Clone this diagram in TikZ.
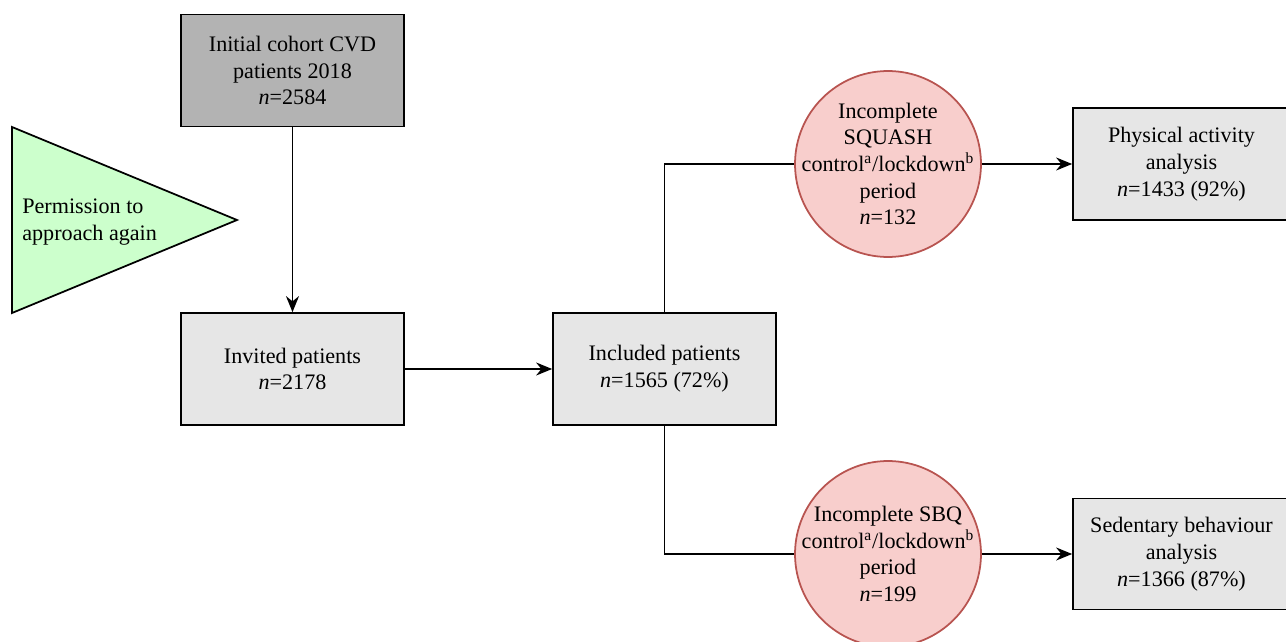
\documentclass[tikz,border=0pt]{standalone}
\usepackage{fontspec}
\setmainfont{Liberation Serif}
\usepackage{xcolor}
\usetikzlibrary{arrows.meta}
\definecolor{darkbox}{HTML}{B3B3B3}
\definecolor{lightbox}{HTML}{E6E6E6}
\definecolor{redfill}{HTML}{F8CECC}
\definecolor{redline}{HTML}{B85450}
\definecolor{greenfill}{HTML}{CCFFCC}

\begin{document}
\begin{tikzpicture}[x=0.02cm, y=-0.02cm,
    every node/.style={font=\fontsize{12.6}{15.2}\selectfont},
    box/.style={shape=rectangle, draw, line width=1pt, fill=lightbox, minimum width=4.46cm, minimum height=2.24cm, align=center, inner sep=2pt},
    circ/.style={shape=circle, draw=redline, line width=1pt, fill=redfill, minimum size=3.72cm, inner sep=-30pt, align=center},
    arr/.style={line width=1pt, -{Stealth[length=0.32cm, width=0.26cm]}}]
    \useasboundingbox (0,0) rectangle (1286,642);

    % left column
    \node[box, fill=darkbox] (init) at (292.5,70.5) {Initial cohort CVD\\patients 2018\\\textit{n}=2584};
    \node[box] (invited) at (292.5,369) {Invited patients\\\textit{n}=2178};
    \draw[line width=1pt, fill=greenfill] (12,127) -- (237,220) -- (12,313) -- cycle;
    \node[anchor=west, align=left, inner sep=0pt] (perm) at (22,222) {Permission to\\approach again};

    % middle
    \node[box] (included) at (664.5,369) {Included patients\\\textit{n}=1565 (72\%)};
    \node[circ] (squash) at (888,164) {Incomplete\\SQUASH\\control\textsuperscript{a}/lockdown\textsuperscript{b}\\period\\\textit{n}=132};
    \node[circ] (sbq) at (888,554) {Incomplete SBQ\\control\textsuperscript{a}/lockdown\textsuperscript{b}\\period\\\textit{n}=199};

    % right column
    \node[box, minimum width=4.34cm] (pa) at (1181.5,164) {Physical activity\\analysis\\\textit{n}=1433 (92\%)};
    \node[box, minimum width=4.34cm, minimum height=2.22cm] (sb) at (1181.5,554) {Sedentary behaviour\\analysis\\\textit{n}=1366 (87\%)};

    \draw[arr] (init) -- (invited);
    \draw[arr] (invited) -- (included);
    \draw[line width=1pt] (included.north) |- (squash.west);
    \draw[line width=1pt] (included.south) |- (sbq.west);
    \draw[arr] (squash) -- (pa);
    \draw[arr] (sbq) -- (sb);
\end{tikzpicture}
\end{document}
